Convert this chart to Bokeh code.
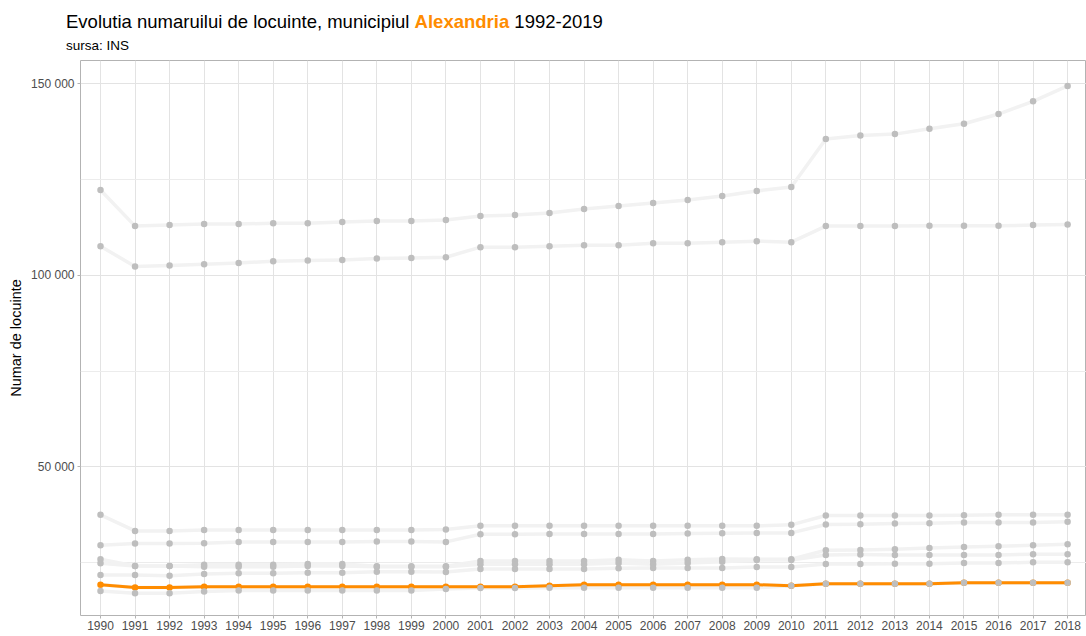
from bokeh.plotting import figure
from bokeh.layouts import column
from bokeh.models import FixedTicker, Range1d, Div
from bokeh.embed import file_html
from bokeh.resources import INLINE

years = list(range(1990, 2019))

oras_a = [122250, 112830, 113090, 113350, 113350, 113600, 113600, 113870, 114140, 114140,
          114400, 115440, 115700, 116230, 117280, 118060, 118850, 119630, 120680, 121990,
          123040, 135520, 136470, 136820, 138220, 139530, 142060, 145370, 149400]
oras_b = [107590, 102280, 102540, 102880, 103230, 103670, 103840, 104010, 104360, 104530,
          104710, 107330, 107330, 107590, 107850, 107850, 108380, 108380, 108640, 108900,
          108640, 112830, 112830, 112830, 112910, 112910, 112910, 113090, 113260]
oras_c = [37510, 33320, 33320, 33590, 33590, 33590, 33590, 33590, 33590, 33590,
          33680, 34640, 34640, 34640, 34640, 34640, 34640, 34640, 34640, 34640,
          34900, 37350, 37350, 37350, 37350, 37420, 37510, 37510, 37510]
oras_d = [29580, 30020, 30020, 30110, 30460, 30460, 30460, 30460, 30540, 30540,
          30460, 32460, 32460, 32550, 32550, 32550, 32550, 32640, 32720, 32810,
          32810, 34990, 35080, 35250, 35340, 35510, 35510, 35510, 35690]
oras_e = [25920, 24170, 24170, 24520, 24520, 24520, 24690, 24690, 24100, 24100,
          24080, 25480, 25480, 25480, 25480, 25830, 25480, 25830, 26010, 25920,
          25920, 28270, 28350, 28530, 28880, 29140, 29320, 29580, 29840]
oras_f = [24870, 24170, 24170, 24000, 24000, 24000, 24170, 24170, 23950, 23950,
          24000, 24610, 24610, 24610, 24610, 24960, 24610, 24960, 25310, 25750,
          25750, 27050, 27140, 27050, 27050, 27050, 27050, 27230, 27230]
oras_g = [21810, 21810, 21640, 22080, 22250, 22250, 22430, 22430, 22690, 22690,
          22600, 23380, 23380, 23380, 23380, 23560, 23650, 23650, 23650, 23910,
          23910, 24690, 24690, 24780, 24780, 24960, 24960, 25130, 25130]
oras_i = [17620, 17090, 17090, 17540, 17800, 17800, 17800, 17800, 17800, 17800,
          18150, 18410, 18410, 18500, 18500, 18500, 18500, 18500, 18500, 18500,
          19030, 19550, 19550, 19550, 19550, 19810, 19810, 19810, 19810]
alexandria = [19290, 18590, 18590, 18750, 18750, 18750, 18750, 18750, 18750, 18750,
              18770, 18770, 18770, 19030, 19290, 19290, 19290, 19290, 19290, 19290,
              19030, 19550, 19550, 19550, 19550, 19810, 19810, 19810, 19810]

gray_series = [oras_a, oras_b, oras_c, oras_d, oras_e, oras_f, oras_g, oras_i]

y_ticks = [50000, 100000, 150000]
y_minor = [25000, 75000, 125000]
y_tick_labels = ["50 000", "100 000", "150 000"]

title_parts = ["Evolutia numaruilui de locuinte, municipiul", "Alexandria", "1992-2019"]
subtitle = "sursa: INS"

FONT = "Liberation Sans"

# ---- header (title + subtitle) ----
header_html = (
    f'<div style="position:relative;width:1086px;height:60px;font-family:\'{FONT}\',Arial,sans-serif;">'
    f'<div style="position:absolute;left:66px;top:12px;font-size:18.5px;line-height:20px;'
    f'color:#000;white-space:nowrap;">{title_parts[0]} '
    f'<span style="color:#ff8c00;font-weight:bold;">{title_parts[1]}</span> {title_parts[2]}</div>'
    f'<div style="position:absolute;left:66px;top:38px;font-size:13.5px;line-height:15px;'
    f'color:#000;white-space:nowrap;">{subtitle}</div>'
    '</div>'
)
head = Div(text=header_html, width=1086, height=60, margin=0)

# ---- main plot ----
p = figure(width=1086, height=572, output_backend="svg", toolbar_location=None,
           x_range=Range1d(1989.421, 2018.547), y_range=Range1d(11260, 156020),
           min_border_left=80, min_border_top=0, min_border_right=0, min_border_bottom=0,
           background_fill_color="white", border_fill_color="white", margin=0)

p.outline_line_color = "#b3b3b3"
p.outline_line_width = 1

p.xgrid.ticker = FixedTicker(ticks=years)
p.xgrid.grid_line_color = "#e3e3e3"
p.xgrid.grid_line_width = 1
p.ygrid.ticker = FixedTicker(ticks=y_ticks, minor_ticks=y_minor)
p.ygrid.grid_line_color = "#e3e3e3"
p.ygrid.grid_line_width = 1
p.ygrid.minor_grid_line_color = "#ececec"
p.ygrid.minor_grid_line_width = 1

p.xaxis.ticker = FixedTicker(ticks=years)
p.yaxis.ticker = FixedTicker(ticks=y_ticks, minor_ticks=y_minor)
p.yaxis.major_label_overrides = {t: l for t, l in zip(y_ticks, y_tick_labels)}
for ax in (p.xaxis[0], p.yaxis[0]):
    ax.axis_line_color = None
    ax.major_tick_line_color = "#b3b3b3"
    ax.major_tick_out = 3
    ax.major_tick_in = 0
    ax.minor_tick_line_color = None
    ax.major_label_text_font = FONT
    ax.major_label_text_font_size = "12px"
    ax.major_label_text_color = "#4d4d4d"
    ax.major_label_standoff = 2
p.yaxis.axis_label = "Numar de locuinte"
p.yaxis.axis_label_text_font = FONT
p.yaxis.axis_label_text_font_size = "14.5px"
p.yaxis.axis_label_text_font_style = "normal"
p.yaxis.axis_label_text_color = "black"
p.yaxis.axis_label_standoff = 4

for s in gray_series + [alexandria]:
    p.line(years, s, line_color="#f2f2f2", line_width=3.5, line_join="round")

p.line(years, alexandria, line_color="#ff8c00", line_width=3)
p.scatter(years, alexandria, size=6.5, fill_color="#ff8c00", line_color=None)

for s in gray_series:
    p.scatter(years, s, size=6.5, fill_color="#bebebe", line_color=None)

layout = column(head, p, spacing=0, margin=0)
open("out.html", "w").write(file_html(layout, INLINE))
